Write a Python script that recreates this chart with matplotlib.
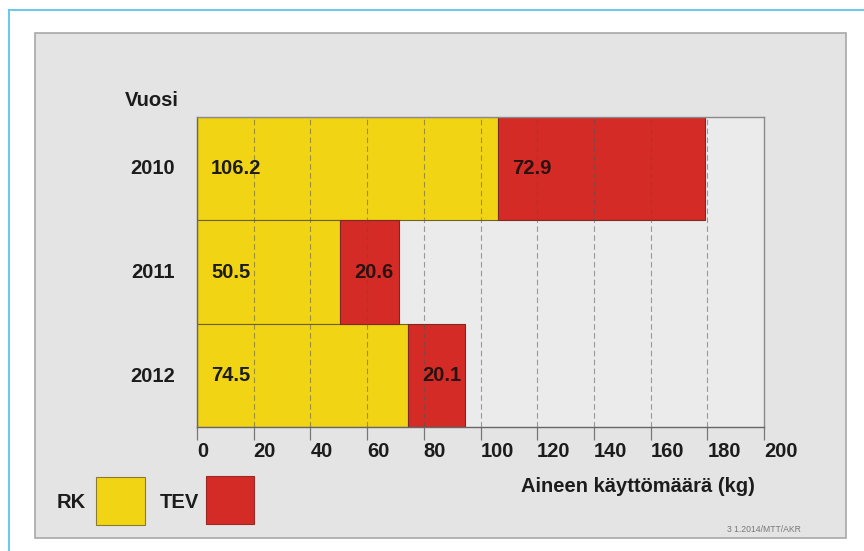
import matplotlib
matplotlib.use("Agg")
import matplotlib.pyplot as plt
from matplotlib.patches import Rectangle

# Data
years = ["2010", "2011", "2012"]
rk = [106.2, 50.5, 74.5]
tev = [72.9, 20.6, 20.1]
xticks = [0, 20, 40, 60, 80, 100, 120, 140, 160, 180, 200]

YELLOW = "#f1d515"
RED = "#d52b26"
PANEL = "#e4e4e4"
TXT = "#1c1c1c"
FONT = ["Liberation Sans", "DejaVu Sans"]
FS = 14.5

W, H = 864, 551
fig = plt.figure(figsize=(W / 100, H / 100), dpi=100)
fig.patch.set_facecolor("white")

def px(x, y):
    return x / W, 1 - y / H

# light blue outer frame
fig.add_artist(plt.Line2D([9 / W, 9 / W], [0, 1 - 10 / H], transform=fig.transFigure,
                          color="#5cc6ee", lw=1.3))
fig.add_artist(plt.Line2D([9 / W, 1], [1 - 10 / H, 1 - 10 / H], transform=fig.transFigure,
                          color="#5cc6ee", lw=1.3))

# grey panel
fig.add_artist(Rectangle(px(35, 538), (846 - 35) / W, (538 - 33) / H, transform=fig.transFigure,
                         facecolor=PANEL, edgecolor="#a8a8a8", lw=1.2, zorder=0))

# plot area
x0, x1, y0, y1 = 197, 764, 117, 427
ax = fig.add_axes([x0 / W, 1 - y1 / H, (x1 - x0) / W, (y1 - y0) / H])
ax.set_facecolor("#ebebeb")

pos = list(range(len(years)))
ax.barh(pos, rk, height=1.0, color=YELLOW, edgecolor="#6e6226", lw=0.8, zorder=2)
ax.barh(pos, tev, left=rk, height=1.0, color=RED, edgecolor="#7a2a22", lw=0.8, zorder=2)

ax.set_xlim(0, 200)
ax.set_ylim(len(years) - 0.5, -0.5)

# vertical dashed grid over the bars
for v in xticks[1:-1]:
    ax.axvline(v, color="#555555", lw=0.8, ls=(0, (5, 3)), alpha=0.55, zorder=3)

# value labels
for i in pos:
    ax.text(5, i, f"{rk[i]:.1f}", ha="left", va="center", fontsize=FS, fontweight="bold",
            color=TXT, family=FONT, zorder=4)
    ax.text(rk[i] + 5.0, i, f"{tev[i]:.1f}", ha="left", va="center", fontsize=FS,
            fontweight="bold", color="#2a1210", family=FONT, zorder=4)

ax.set_yticks([])
ax.set_xticks(xticks)
ax.set_xticklabels([str(t) for t in xticks], fontsize=FS, fontweight="bold", color=TXT,
                   family=FONT, ha="left")
ax.tick_params(axis="x", length=9.5, width=0.9, color="#777777", pad=1)
for s in ax.spines.values():
    s.set_color("#8a8a8a")
    s.set_linewidth(1.0)
ax.spines["bottom"].set_color("#666666")
ax.spines["left"].set_color("#666666")

# year labels and axis titles
for i, y in enumerate(years):
    fig.text(*px(153, 169 + i * 103.5), y, ha="center", va="center", fontsize=FS,
             fontweight="bold", color=TXT, family=FONT)
fig.text(*px(152, 101), "Vuosi", ha="center", va="center", fontsize=FS, fontweight="bold",
         color=TXT, family=FONT)
fig.text(*px(638, 486), "Aineen käyttömäärä (kg)", ha="center", va="center", fontsize=FS,
         fontweight="bold", color=TXT, family=FONT)

# legend
fig.text(*px(71, 502), "RK", ha="center", va="center", fontsize=FS, fontweight="bold",
         color=TXT, family=FONT)
fig.add_artist(Rectangle(px(96, 525), 49 / W, 48 / H, transform=fig.transFigure,
                         facecolor=YELLOW, edgecolor="#8a7a30", lw=0.8))
fig.text(*px(179, 502), "TEV", ha="center", va="center", fontsize=FS, fontweight="bold",
         color=TXT, family=FONT)
fig.add_artist(Rectangle(px(206, 524), 48 / W, 48 / H, transform=fig.transFigure,
                         facecolor=RED, edgecolor="#9a2a24", lw=0.8))

# source note
fig.text(*px(764, 530), "3 1.2014/MTT/AKR", ha="center", va="center", fontsize=6.2,
         color="#777777", family=FONT)

fig.savefig("out.png", dpi=100)
